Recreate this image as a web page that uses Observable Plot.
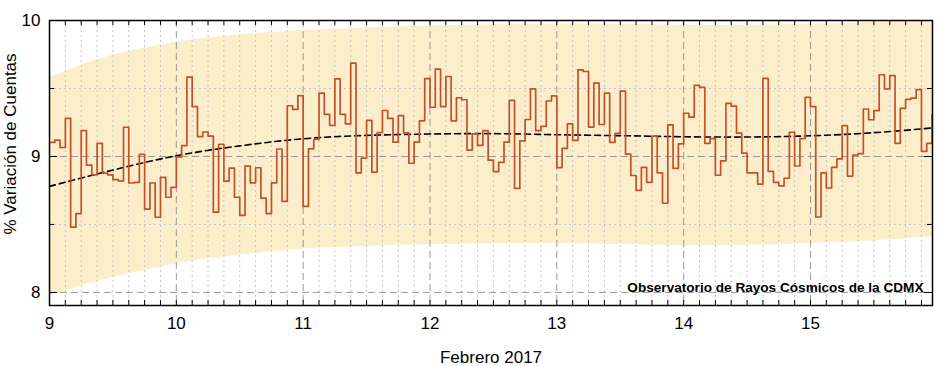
<!DOCTYPE html>
<html><head><meta charset="utf-8">
<script src="https://cdn.jsdelivr.net/npm/d3@7"></script>
<script src="https://cdn.jsdelivr.net/npm/@observablehq/plot@0.6"></script>
<style>
body{margin:0;background:#fff;}
#chart svg{display:block;}
</style></head><body><div id="chart"></div>
<script>
// Hourly cosmic ray count variation (%), Feb 9 00:00 → Feb 15 23:00
const startDay = 9;
const counts = [
  9.103, 9.12, 9.066, 9.28, 8.48, 8.58, 9.19, 8.936, 8.865, 9.096, 8.877, 8.865,
  8.83, 8.82, 9.215, 8.805, 8.81, 9.016, 8.613, 8.805, 8.553, 8.847, 8.70, 8.773,
  8.997, 9.08, 9.583, 9.367, 9.146, 9.18, 9.15, 8.59, 9.09, 8.818, 8.914, 8.70,
  8.567, 8.929, 8.806, 8.917, 8.694, 8.58, 8.806, 9.055, 8.67, 9.373, 9.346, 9.448,
  8.633, 9.056, 9.125, 9.466, 9.31, 9.228, 9.57, 9.31, 9.24, 9.686, 8.88, 8.988,
  9.265, 8.885, 9.176, 9.338, 9.28, 9.105, 9.30, 9.174, 8.95, 9.105, 9.262, 9.572,
  9.362, 9.643, 9.367, 9.588, 9.262, 9.432, 9.417, 9.047, 9.166, 9.081, 9.19, 8.973,
  8.888, 8.957, 9.105, 9.412, 8.765, 9.114, 9.272, 9.497, 9.19, 9.222, 9.408, 9.446,
  8.918, 9.06, 9.24, 9.119, 9.637, 9.625, 9.216, 9.54, 9.235, 9.466, 9.104, 9.17,
  9.48, 9.018, 8.86, 8.75, 8.92, 8.81, 9.15, 8.88, 8.656, 9.233, 8.912, 9.092,
  9.318, 9.289, 9.523, 9.508, 9.097, 9.132, 8.862, 8.968, 9.391, 9.37, 9.172, 9.024,
  8.88, 8.88, 8.797, 9.575, 8.89, 8.81, 8.784, 8.84, 9.178, 8.93, 9.132, 9.435,
  9.367, 8.555, 8.88, 8.768, 8.92, 8.982, 9.227, 8.856, 9.011, 9.021, 9.349, 9.27,
  9.337, 9.601, 9.497, 9.594, 9.097, 9.354, 9.42, 9.429, 9.492, 9.037, 9.097, 9.31
];
// Trend (dashed) and band
const trendDay = [9, 9.5, 10, 10.5, 11, 11.5, 12, 12.5, 13, 13.5, 14, 14.5, 15, 15.5, 15.962];
const trendVal = [8.78, 8.90, 9.005, 9.078, 9.13, 9.155, 9.165, 9.168, 9.16, 9.153, 9.145, 9.143, 9.152, 9.175, 9.21];
const bandDay  = [9, 9.25, 9.5, 10, 10.5, 11, 11.5, 12, 12.5, 13, 13.5, 14, 14.5, 15, 15.5, 15.962];
const bandHigh = [9.58, 9.67, 9.745, 9.84, 9.895, 9.926, 9.945, 9.96, 9.968, 9.972, 9.97, 9.965, 9.965, 9.972, 9.985, 10.0];
const bandLow  = [7.975, 8.05, 8.11, 8.21, 8.275, 8.32, 8.338, 8.35, 8.358, 8.36, 8.352, 8.342, 8.345, 8.36, 8.38, 8.41];
const xTicks = [9, 10, 11, 12, 13, 14, 15];
const yTicks = [8, 9, 10];
const yMinor = [8.5, 9.5];
const note = "Observatorio de Rayos Cósmicos de la CDMX";
const xTitle = "Febrero 2017";
const yTitle = "% Variación de Cuentas";

const series = counts.map((v, i) => ({t: startDay + i / 24, v}));
const trend = trendDay.map((t, i) => ({t, v: trendVal[i]}));
const band = bandDay.map((t, i) => ({t, lo: bandLow[i], hi: bandHigh[i]}));
const xAll = d3.range(0, 56).map(i => 9 + i / 8);
const xMinor = xAll.filter(t => t % 1 !== 0);

const W = 943, H = 366, mL = 49, mR = 11, mT = 20, mB = 61;
const pW = W - mL - mR, pH = H - mT - mB;
const font = "'Liberation Sans', Arial, sans-serif";

const chart = Plot.plot({
  width: W, height: H,
  marginLeft: mL, marginRight: mR, marginTop: mT, marginBottom: mB,
  style: {fontFamily: font, fontSize: "17px", background: "#fff", color: "#000", overflow: "visible"},
  x: {domain: [9, 15.962]},
  y: {domain: [7.904, 10]},
  marks: [
    Plot.areaY(band, {x: "t", y1: "lo", y2: "hi", curve: "natural", fill: "#fdeecb", clip: true}),
    Plot.ruleX(xMinor, {x: d => d, stroke: "#c4c4c4", strokeDasharray: "2,3", strokeWidth: 1}),
    Plot.ruleY(yMinor, {y: d => d, stroke: "#c4c4c4", strokeDasharray: "2,3", strokeWidth: 1}),
    Plot.ruleX(xTicks.filter(d => d > 9), {x: d => d, stroke: "#8a8a8a", strokeOpacity: 0.85, strokeDasharray: "7,4", strokeWidth: 1}),
    Plot.ruleY([8, 9], {y: d => d, stroke: "#8a8a8a", strokeOpacity: 0.85, strokeDasharray: "7,4", strokeWidth: 1}),
    Plot.line(trend, {x: "t", y: "v", curve: "natural", stroke: "#000", strokeWidth: 1.6, strokeDasharray: "6,4"}),
    Plot.line(series, {x: "t", y: "v", curve: "step-after", stroke: "#c4502a", strokeWidth: 1.7, clip: true}),
    Plot.text([note], {x: 15.891, y: 8, text: d => d, textAnchor: "end", lineAnchor: "bottom", dy: 0,
      fontWeight: "bold", fontSize: 13.6, fill: "#000"}),
    Plot.frame({stroke: "#000", strokeWidth: 1.5}),
    Plot.tickX(xAll, {x: d => d, insetBottom: pH - 5, stroke: "#000"}),
    Plot.tickX(xAll, {x: d => d, insetTop: pH - 5, stroke: "#000"}),
    Plot.tickY(yTicks, {y: d => d, insetRight: pW - 8, stroke: "#000"}),
    Plot.tickY(yMinor, {y: d => d, insetRight: pW - 5, stroke: "#000"}),
    Plot.tickY(yTicks, {y: d => d, insetLeft: pW - 8, stroke: "#000"}),
    Plot.tickY(yMinor, {y: d => d, insetLeft: pW - 5, stroke: "#000"}),
    Plot.axisX(xTicks, {anchor: "bottom", tickSize: 0, tickPadding: 11, fontSize: 17, label: null, tickFormat: d => String(d)}),
    Plot.axisY(yTicks, {anchor: "left", tickSize: 0, tickPadding: 9, fontSize: 17, label: null, tickFormat: d => String(d)}),
    Plot.text([xTitle], {frameAnchor: "bottom", text: d => d, dy: 57, lineAnchor: "bottom", fontSize: 17}),
    Plot.text([yTitle], {frameAnchor: "left", text: d => d, rotate: -90, dx: -39, dy: -19,
      textAnchor: "middle", lineAnchor: "middle", fontSize: 17})
  ]
});
document.getElementById("chart").append(chart);
</script></body></html>
